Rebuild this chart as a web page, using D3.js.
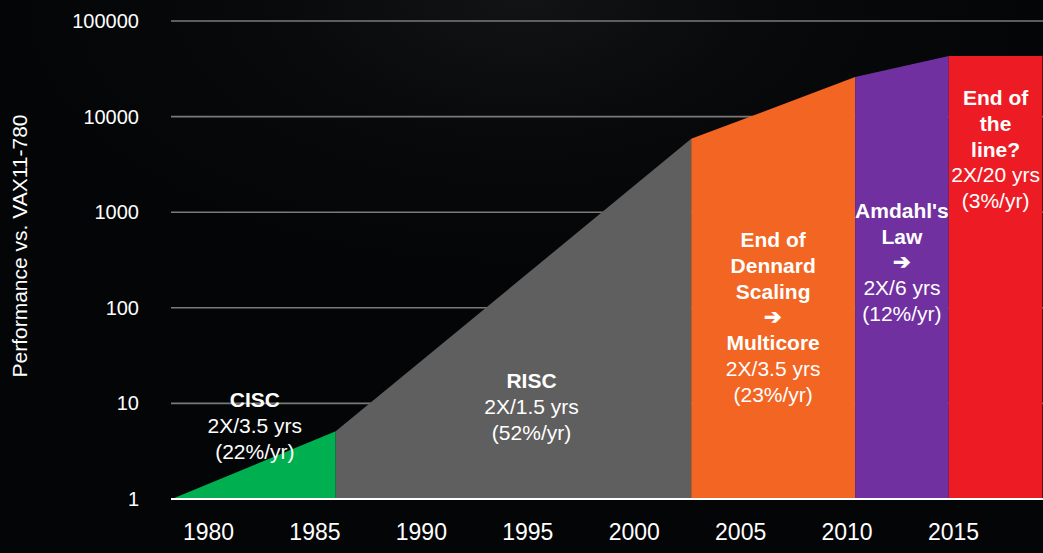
<!DOCTYPE html>
<html>
<head>
<meta charset="utf-8">
<script src="https://cdn.jsdelivr.net/npm/d3@7"></script>
<style>
  html, body { margin: 0; padding: 0; background: #040506; }
  svg { display: block; }
  text { font-family: "Liberation Sans", Arial, sans-serif; }
</style>
</head>
<body>
<svg id="chart" width="1043" height="553"></svg>
<script>
// Era boundaries (year) and performance relative to VAX11-780 at each boundary
const eraNames   = ["CISC", "RISC", "Dennard", "Amdahl", "EndOfLine"];
const eraStart   = [1978.3, 1986, 2002.7, 2010.4, 2014.8];
const eraEnd     = [1986, 2002.7, 2010.4, 2014.8, 2019.2];
const perfStart  = [1, 5.1, 5860, 25900, 43000];
const perfEnd    = [5.1, 5860, 25900, 43000, 43000];
const eraColors  = ["#00b050", "#5f5f5f", "#f26522", "#7030a0", "#ed1c24"];

// Annotation text for each era: [text, bold?]
const eraLabels = [
  [["CISC", true], ["2X/3.5 yrs", false], ["(22%/yr)", false]],
  [["RISC", true], ["2X/1.5 yrs", false], ["(52%/yr)", false]],
  [["End of", true], ["Dennard", true], ["Scaling", true], ["\u2794", true],
   ["Multicore", true], ["2X/3.5 yrs", false], ["(23%/yr)", false]],
  [["Amdahl's", true], ["Law", true], ["\u2794", true],
   ["2X/6 yrs", false], ["(12%/yr)", false]],
  [["End of", true], ["the", true], ["line?", true],
   ["2X/20 yrs", false], ["(3%/yr)", false]]
];

const yTicks = [1, 10, 100, 1000, 10000, 100000];
const xTicks = [1980, 1985, 1990, 1995, 2000, 2005, 2010, 2015];
const yTitle = "Performance vs. VAX11-780";

const W = 1043, H = 553;
const svg = d3.select("#chart");

// faint haze across the top of the dark background
const defs = svg.append("defs");
const rg = defs.append("radialGradient").attr("id", "haze")
  .attr("cx", "0.5").attr("cy", "0").attr("r", "0.5");
rg.append("stop").attr("offset", "0").attr("stop-color", "#121315");
rg.append("stop").attr("offset", "0.5").attr("stop-color", "#08090b");
rg.append("stop").attr("offset", "1").attr("stop-color", "#040506");
svg.append("rect").attr("width", W).attr("height", H).attr("fill", "url(#haze)");

const x = d3.scaleLinear().domain([1980, 2015]).range([208, 953]);
const y = d3.scaleLog().domain([1, 100000]).range([499, 21]);
const plotLeft = 171, plotRight = W;

// gridlines
svg.append("g").selectAll("line").data(yTicks.slice(1)).join("line")
  .attr("x1", plotLeft).attr("x2", plotRight)
  .attr("y1", d => y(d)).attr("y2", d => y(d))
  .attr("stroke", "#7a7a7a").attr("stroke-width", 1.6);

// era areas
const area = d3.area().x(d => x(d[0])).y0(y(1)).y1(d => y(d[1]));
svg.append("g").selectAll("path").data(eraNames).join("path")
  .attr("d", (n, i) => area([[eraStart[i], perfStart[i]], [eraEnd[i], perfEnd[i]]]))
  .attr("fill", (n, i) => eraColors[i]);

// baseline
svg.append("line")
  .attr("x1", plotLeft).attr("x2", plotRight)
  .attr("y1", y(1)).attr("y2", y(1))
  .attr("stroke", "#ffffff").attr("stroke-width", 2);

// y axis tick labels
const yAxis = d3.axisLeft(y).tickValues(yTicks).tickFormat(d3.format("d")).tickSize(0).tickPadding(0);
const gy = svg.append("g").attr("transform", "translate(139,0)").call(yAxis);
gy.select(".domain").remove();
gy.selectAll("text").attr("fill", "#ffffff").attr("font-size", 20)
  .attr("font-family", "Liberation Sans, Arial, sans-serif");

// x axis tick labels
const xAxis = d3.axisBottom(x).tickValues(xTicks).tickFormat(d3.format("d")).tickSize(0).tickPadding(0);
const gx = svg.append("g").attr("transform", "translate(0,530)").call(xAxis);
gx.select(".domain").remove();
gx.selectAll("text").attr("fill", "#ffffff").attr("font-size", 23)
  .attr("font-family", "Liberation Sans, Arial, sans-serif").attr("dy", "0.71em")
  .attr("y", -6);

// y axis title
svg.append("text")
  .attr("transform", "translate(27,246) rotate(-90)")
  .attr("text-anchor", "middle")
  .attr("fill", "#ffffff").attr("font-size", 21)
  .text(yTitle);

// annotation anchors: horizontal centre (year) and centre of the first line (px)
const labelLayout = [
  { cx: x(1982.2), top: 400 },
  { cx: x(1995.2), top: 381 },
  { cx: x(2006.55), top: 240 },
  { cx: x(2012.6), top: 211 },
  { cx: x(2017.0), top: 98 }
];
const lineH = 25.7;
eraLabels.forEach((lines, i) => {
  const g = svg.append("g");
  lines.forEach((ln, j) => {
    const isArrow = ln[0] === "\u2794";
    g.append("text")
      .attr("x", labelLayout[i].cx)
      .attr("y", labelLayout[i].top + j * lineH)
      .attr("dy", isArrow ? "0.33em" : "0.35em")
      .attr("text-anchor", "middle")
      .attr("fill", "#ffffff")
      .attr("font-size", isArrow ? 21 : 21)
      .attr("font-weight", ln[1] ? "bold" : "normal")
      .attr("font-family", isArrow ? "DejaVu Sans, sans-serif" : "Liberation Sans, Arial, sans-serif")
      .text(ln[0]);
  });
});
</script>
</body>
</html>
